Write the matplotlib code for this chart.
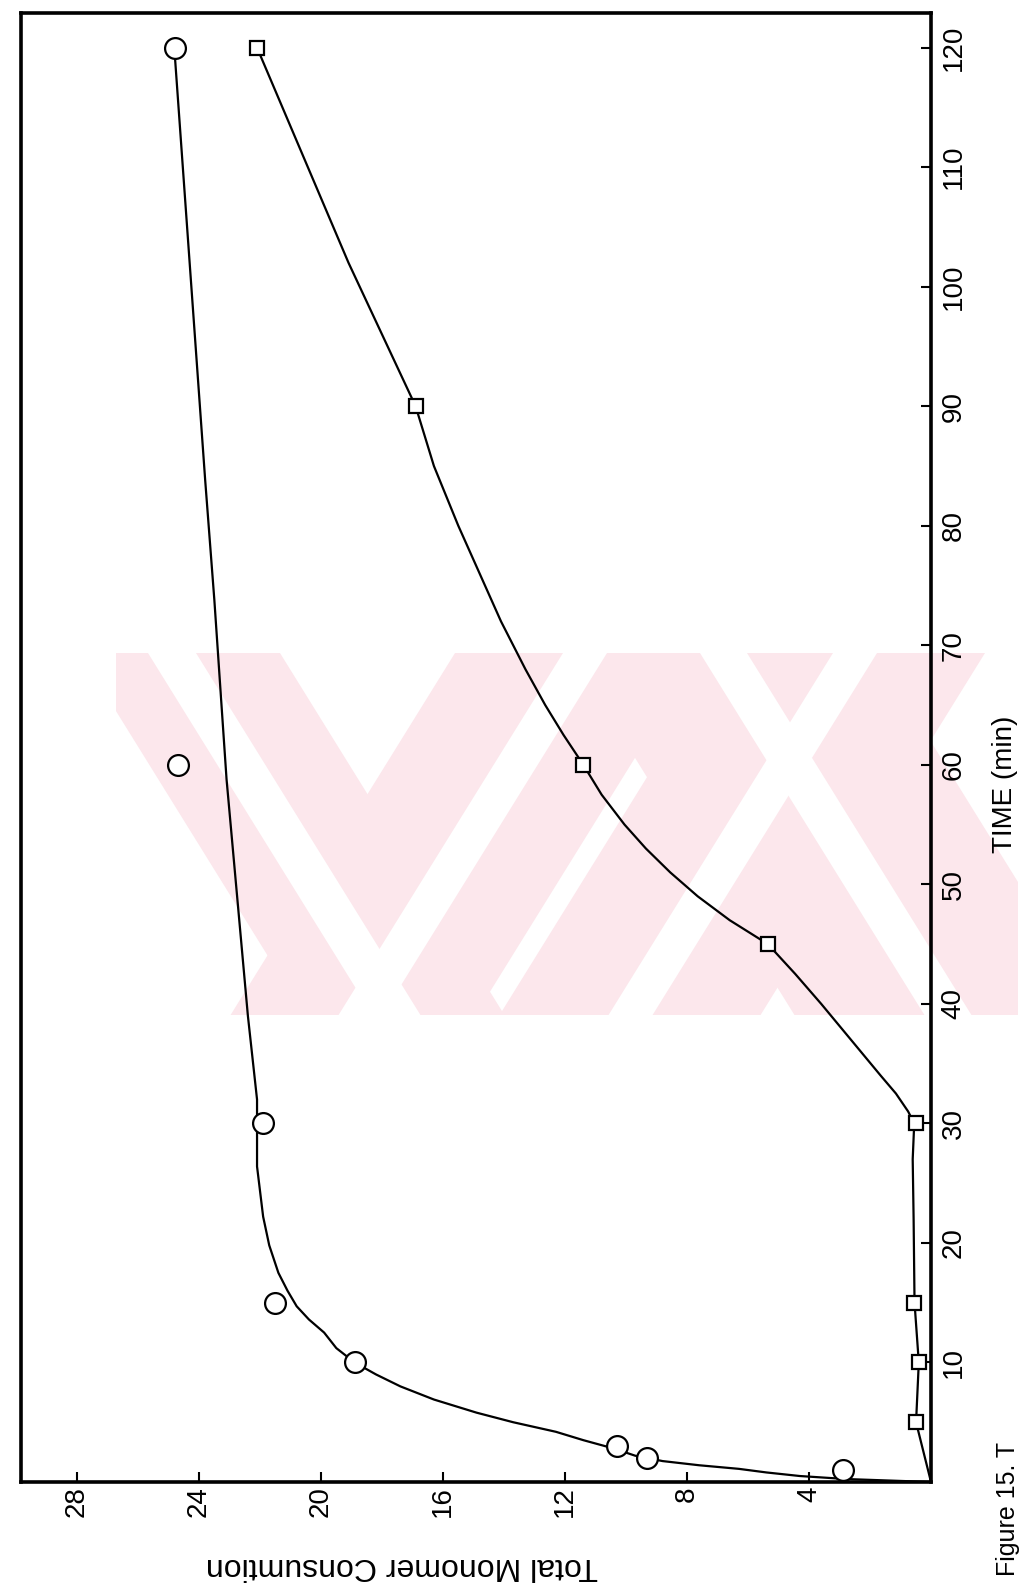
import numpy as np
import matplotlib.pyplot as plt
from matplotlib.patches import Polygon, Rectangle

W, H = 1024, 1586
DPI = 100

# measured points: time (min) against total monomer consumption
circ_time = [1, 2, 3, 10, 15, 30, 60, 120]
circ_cons = [2.9, 9.3, 10.3, 18.9, 21.5, 21.9, 24.7, 24.8]
sq_time = [5, 10, 15, 30, 45, 60, 90, 120]
sq_cons = [0.5, 0.4, 0.55, 0.5, 5.35, 11.4, 16.9, 22.1]

# hand drawn curves, read along the lines of the picture
circ_curve_t = [0, 0.25, 0.5, 0.8, 1.1, 1.4, 1.75, 2.2, 2.8, 3.5, 4.2, 5.0, 5.8,
                6.9, 8.0, 9.0, 10.0, 11.2, 12.5, 13.6, 14.7, 16.0, 17.5, 19.8,
                22.2, 26.4, 32.0, 39.0, 58.8, 73.8, 83.8, 119.5]
circ_curve_c = [0, 2.8, 4.3, 5.4, 6.3, 7.6, 8.8, 9.7, 10.4, 11.4, 12.3, 13.7, 14.9,
                16.3, 17.4, 18.2, 18.9, 19.5, 19.9, 20.4, 20.8, 21.1, 21.4, 21.7,
                21.9, 22.1, 22.1, 22.4, 23.1, 23.5, 23.8, 24.8]
sq_curve_t = [0, 5, 10, 15, 22, 27, 30, 31, 32.5, 34, 36, 38, 40, 42.5, 45, 47,
              49, 51, 53, 55, 57.5, 60, 62.5, 65, 68, 72, 76, 80, 85, 90, 96,
              102, 108, 114, 120]
sq_curve_c = [0, 0.49, 0.4, 0.54, 0.57, 0.6, 0.55, 0.75, 1.15, 1.65, 2.3, 2.95,
              3.6, 4.45, 5.35, 6.6, 7.65, 8.55, 9.35, 10.05, 10.8, 11.4, 12.05,
              12.65, 13.3, 14.1, 14.8, 15.5, 16.3, 16.9, 18.0, 19.1, 20.1, 21.1,
              22.1]

cons_ticks = [4, 8, 12, 16, 20, 24, 28]
time_ticks = [10, 20, 30, 40, 50, 60, 70, 80, 90, 100, 110, 120]

plt.rcParams['font.family'] = ['Liberation Sans', 'DejaVu Sans']

fig = plt.figure(figsize=(W / DPI, H / DPI), dpi=DPI)
fig.patch.set_facecolor('white')


def px(x, y):
    return (x / W, 1 - y / H)


# pink watermark behind the chart: diagonal bands with a white stripe, clipped to a box
pink = '#fce7ec'
wm_top, wm_bot = 653, 1015
shift = 0.62 * (wm_bot - wm_top)
clip = Rectangle(px(116, wm_bot), (1018 - 116) / W, (wm_bot - wm_top) / H,
                 transform=fig.transFigure, visible=False)
fig.add_artist(clip)
# (x0, x1) at the top, +1 leans like "\", -1 like "/"
bands = [((80, 280), (148, 196), 1), ((455, 700), (563, 607), -1),
         ((724, 985), (833, 877), -1), ((570, 876), (700, 747), 1)]
for (a, b), (sa, sb), d in bands:
    for (u, v), col, z in (((a, b), pink, -3), ((sa, sb), 'white', -2)):
        pts = [px(u, wm_top), px(v, wm_top), px(v + d * shift, wm_bot), px(u + d * shift, wm_bot)]
        p = Polygon(pts, closed=True, transform=fig.transFigure, facecolor=col,
                    edgecolor='none', zorder=z)
        fig.add_artist(p)
        p.set_clip_path(clip)

ax = fig.add_axes([21 / W, 104 / H, 910 / W, 1469 / H])
ax.patch.set_visible(False)

ax.plot(circ_curve_c, circ_curve_t, color='black', lw=1.6, zorder=2,
        solid_joinstyle='round')
ax.plot(sq_curve_c, sq_curve_t, color='black', lw=1.6, zorder=2,
        solid_joinstyle='round')
ax.plot(circ_cons, circ_time, linestyle='none', marker='o', markersize=15,
        markerfacecolor='white', markeredgecolor='black', markeredgewidth=1.6, zorder=3)
ax.plot(sq_cons, sq_time, linestyle='none', marker='s', markersize=10,
        markerfacecolor='white', markeredgecolor='black', markeredgewidth=1.6, zorder=3)

ax.set_xlim(29.84, 0)
ax.set_ylim(0, 122.9)
ax.yaxis.tick_right()
ax.set_xticks(cons_ticks)
ax.set_yticks(time_ticks)
ax.tick_params(direction='in', length=7.5, width=1.5, labelsize=20)
ax.tick_params(axis='x', pad=3)
ax.tick_params(axis='y', pad=7)
plt.setp(ax.get_xticklabels(), rotation=90)
plt.setp(ax.get_yticklabels(), rotation=90, va='center')
for s in ax.spines.values():
    s.set_linewidth(2.6)

fig.text(*px(402, 1566), 'Total Monomer Consumtion', rotation=180,
         ha='center', va='center', fontsize=23)
fig.text(*px(1005, 784), 'TIME (min)', rotation=90, ha='center', va='center',
         fontsize=20)
fig.text(*px(1008, 1576), 'Figure 15. T', rotation=90, ha='center', va='bottom',
         fontsize=18)

fig.savefig('out.png', dpi=DPI)
